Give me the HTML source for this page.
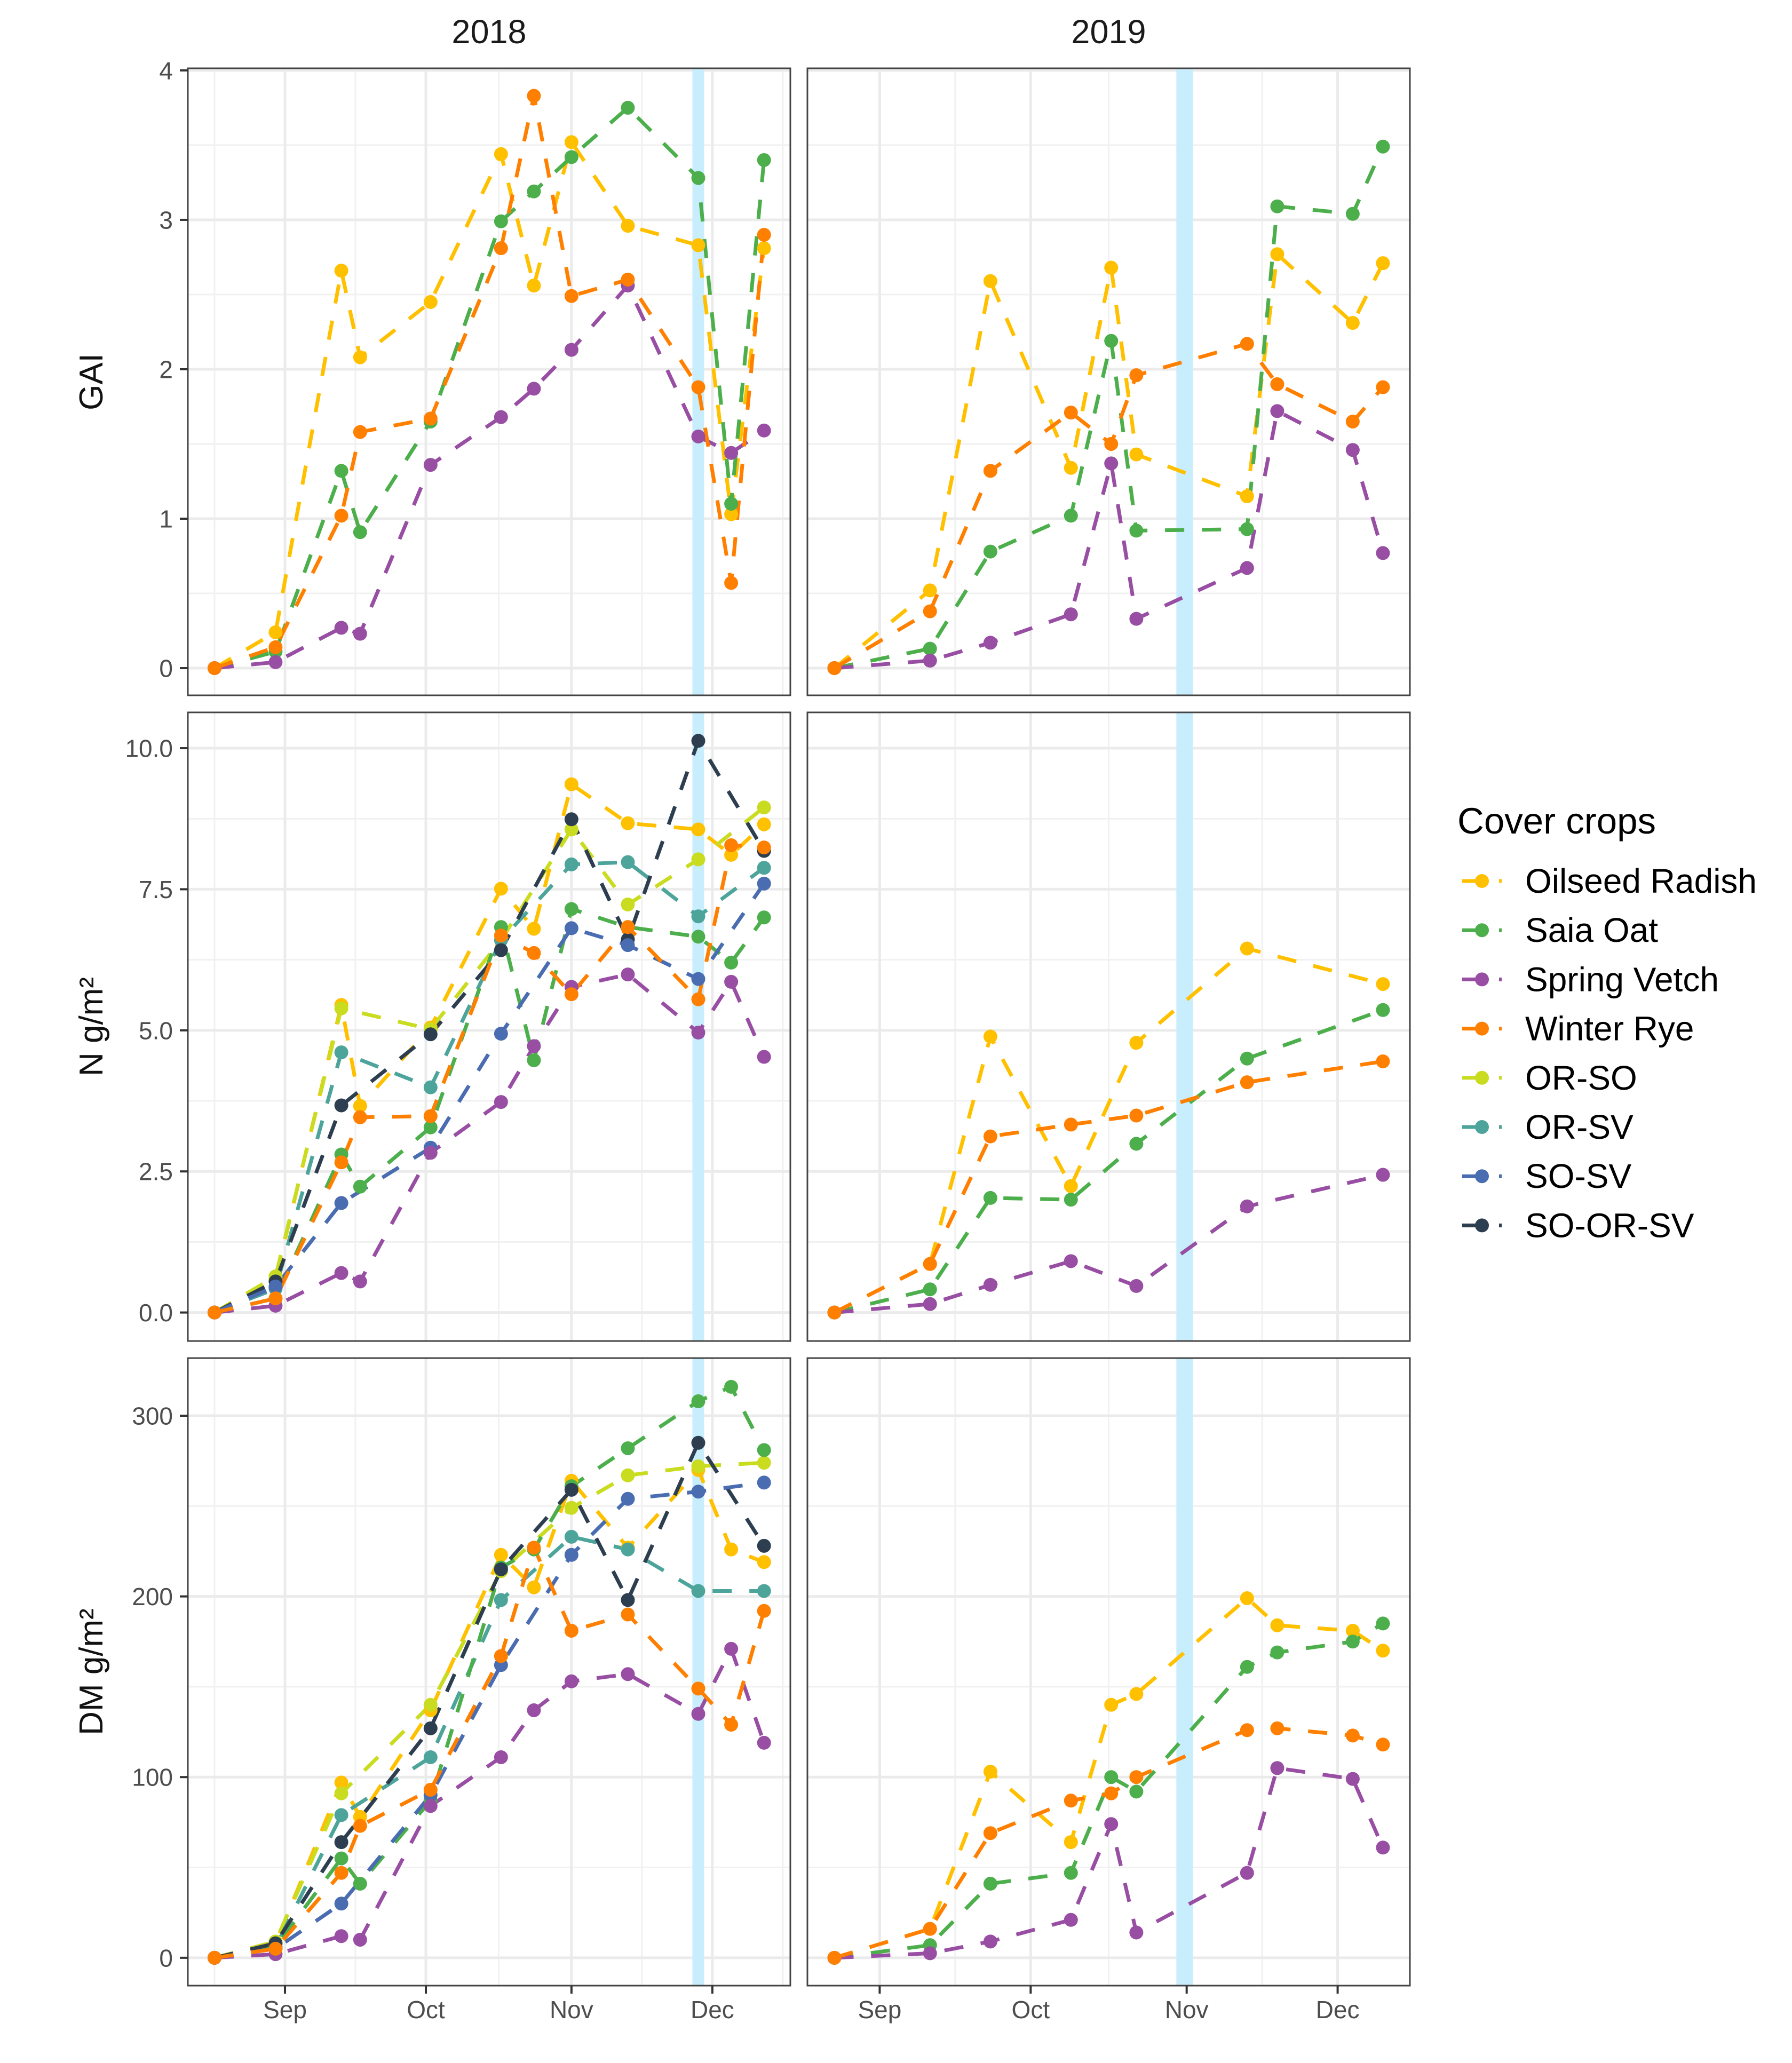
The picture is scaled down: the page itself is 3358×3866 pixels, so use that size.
<!DOCTYPE html>
<html lang="en">
<head>
<meta charset="utf-8">
<title>Cover crops GAI, N and DM by year</title>
<style>
html,body{margin:0;padding:0;background:#fff;}
svg{display:block;font-family:"Liberation Sans",Arial,sans-serif;}
</style>
</head>
<body>
<svg id="chart" xmlns="http://www.w3.org/2000/svg" width="3358" height="3866" viewBox="0 0 3358 3866"></svg>
<script>
// Sampling dates: days relative to 1 September
const dates2018 = [-15, -2, 12, 16, 31, 46, 53, 61, 73, 88, 95, 102];
const datesMix2018 = [-15, -2, 12, 31, 46, 61, 73, 88, 102];
const dates2019 = [-9, 10, 22, 38, 46, 51, 73, 79, 94, 100];
const datesN2019 = [-9, 10, 22, 38, 51, 73, 100];

const monthLabels = ["Sep", "Oct", "Nov", "Dec"];
const monthDays = [0, 30, 61, 91];
const terminationDay2018 = 88;
const terminationDay2019 = 60.6;

const gaiTicks = [0, 1, 2, 3, 4];
const gaiTickLabels = ["0", "1", "2", "3", "4"];
const nTicks = [0, 2.5, 5, 7.5, 10];
const nTickLabels = ["0.0", "2.5", "5.0", "7.5", "10.0"];
const dmTicks = [0, 100, 200, 300];
const dmTickLabels = ["0", "100", "200", "300"];

const cropNames = ["Oilseed Radish", "Saia Oat", "Spring Vetch", "Winter Rye", "OR-SO", "OR-SV", "SO-SV", "SO-OR-SV"];
const cropColors = ["#FFC000", "#4CAF4C", "#984EA3", "#FF7F00", "#C9DC1F", "#4DA49B", "#4A6CB0", "#2C3E50"];
const drawOrder = ["Oilseed Radish", "OR-SO", "OR-SV", "Saia Oat", "SO-OR-SV", "SO-SV", "Spring Vetch", "Winter Rye"];

// GAI 2018
const gai18Radish = [0, 0.24, 2.66, 2.08, 2.45, 3.44, 2.56, 3.52, 2.96, 2.83, 1.03, 2.81];
const gai18Oat = [0, 0.11, 1.32, 0.91, 1.65, 2.99, 3.19, 3.42, 3.75, 3.28, 1.10, 3.40];
const gai18Vetch = [0, 0.04, 0.27, 0.23, 1.36, 1.68, 1.87, 2.13, 2.56, 1.55, 1.44, 1.59];
const gai18Rye = [0, 0.14, 1.02, 1.58, 1.67, 2.81, 3.83, 2.49, 2.60, 1.88, 0.57, 2.90];
// GAI 2019
const gai19Radish = [0, 0.52, 2.59, 1.34, 2.68, 1.43, 1.15, 2.77, 2.31, 2.71];
const gai19Oat = [0, 0.13, 0.78, 1.02, 2.19, 0.92, 0.93, 3.09, 3.04, 3.49];
const gai19Vetch = [0, 0.05, 0.17, 0.36, 1.37, 0.33, 0.67, 1.72, 1.46, 0.77];
const gai19Rye = [0, 0.38, 1.32, 1.71, 1.50, 1.96, 2.17, 1.90, 1.65, 1.88];
// N 2018
const n18Radish = [0, 0.6, 5.45, 3.66, 5.05, 7.51, 6.80, 9.36, 8.67, 8.56, 8.11, 8.65];
const n18Oat = [0, 0.25, 2.80, 2.23, 3.28, 6.83, 4.47, 7.15, 6.83, 6.66, 6.20, 7.00];
const n18Vetch = [0, 0.12, 0.70, 0.55, 2.83, 3.73, 4.72, 5.77, 5.99, 4.96, 5.86, 4.53];
const n18Rye = [0, 0.25, 2.66, 3.46, 3.48, 6.68, 6.37, 5.64, 6.83, 5.55, 8.28, 8.24];
const n18OrSo = [0, 0.64, 5.39, 5.02, 6.60, 8.56, 7.23, 8.03, 8.95];
const n18OrSv = [0, 0.42, 4.61, 3.99, 6.60, 7.94, 7.98, 7.02, 7.88];
const n18SoSv = [0, 0.46, 1.94, 2.92, 4.94, 6.81, 6.51, 5.91, 7.60];
const n18SoOrSv = [0, 0.55, 3.67, 4.93, 6.42, 8.74, 6.61, 10.13, 8.18];
// N 2019
const n19Radish = [0, 0.86, 4.89, 2.24, 4.78, 6.45, 5.82];
const n19Oat = [0, 0.41, 2.03, 2.00, 2.99, 4.50, 5.36];
const n19Vetch = [0, 0.15, 0.49, 0.91, 0.47, 1.88, 2.44];
const n19Rye = [0, 0.86, 3.12, 3.33, 3.49, 4.08, 4.45];
// DM 2018
const dm18Radish = [0, 8, 97, 78, 137, 223, 205, 264, 227, 270, 226, 219];
const dm18Oat = [0, 6, 55, 41, 87, 216, 226, 261, 282, 308, 316, 281];
const dm18Vetch = [0, 2, 12, 10, 84, 111, 137, 153, 157, 135, 171, 119];
const dm18Rye = [0, 5, 47, 73, 93, 167, 227, 181, 190, 149, 129, 192];
const dm18OrSo = [0, 9, 91, 140, 214, 249, 267, 272, 274];
const dm18OrSv = [0, 6, 79, 111, 198, 233, 226, 203, 203];
const dm18SoSv = [0, 5, 30, 90, 162, 223, 254, 258, 263];
const dm18SoOrSv = [0, 8, 64, 127, 215, 259, 198, 285, 228];
// DM 2019
const dm19Radish = [0, 16, 103, 64, 140, 146, 199, 184, 181, 170];
const dm19Oat = [0, 7, 41, 47, 100, 92, 161, 169, 175, 185];
const dm19Vetch = [0, 2.5, 9, 21, 74, 14, 47, 105, 99, 61];
const dm19Rye = [0, 16, 69, 87, 91, 100, 126, 127, 123, 118];

const NS = "http://www.w3.org/2000/svg";
const svg = document.getElementById("chart");

function el(parent, tag, attrs, text) {
  const node = document.createElementNS(NS, tag);
  for (const k in attrs) node.setAttribute(k, attrs[k]);
  if (text !== undefined) node.textContent = text;
  parent.appendChild(node);
  return node;
}
function slug(s) {
  return s.toLowerCase().replace(/[^a-z0-9]+/g, "-");
}
function linear(d0, d1, r0, r1) {
  return function (v) { return r0 + (v - d0) * (r1 - r0) / (d1 - d0); };
}
function midpoints(ticks) {
  const out = [];
  const stepFirst = ticks[1] - ticks[0];
  const stepLast = ticks[ticks.length - 1] - ticks[ticks.length - 2];
  out.push(ticks[0] - stepFirst / 2);
  for (let i = 0; i < ticks.length - 1; i++) out.push((ticks[i] + ticks[i + 1]) / 2);
  out.push(ticks[ticks.length - 1] + stepLast / 2);
  return out;
}

const columns = [
  { year: "2018", left: 352, right: 1481, dayMin: -20.68, dayMax: 107.6, band: terminationDay2018, bandHalf: 1.25 },
  { year: "2019", left: 1513, right: 2642, dayMin: -14.36, dayMax: 105.36, band: terminationDay2019, bandHalf: 1.65 }
];

const rows = [
  { key: "gai", title: "GAI", top: 128, bottom: 1303, min: -0.182, max: 4.014, ticks: gaiTicks, labels: gaiTickLabels,
    series: [
      { "Oilseed Radish": [dates2018, gai18Radish], "Saia Oat": [dates2018, gai18Oat], "Spring Vetch": [dates2018, gai18Vetch], "Winter Rye": [dates2018, gai18Rye] },
      { "Oilseed Radish": [dates2019, gai19Radish], "Saia Oat": [dates2019, gai19Oat], "Spring Vetch": [dates2019, gai19Vetch], "Winter Rye": [dates2019, gai19Rye] }
    ] },
  { key: "n", title: "N g/m\u00B2", top: 1335, bottom: 2513, min: -0.505, max: 10.634, ticks: nTicks, labels: nTickLabels,
    series: [
      { "Oilseed Radish": [dates2018, n18Radish], "Saia Oat": [dates2018, n18Oat], "Spring Vetch": [dates2018, n18Vetch], "Winter Rye": [dates2018, n18Rye],
        "OR-SO": [datesMix2018, n18OrSo], "OR-SV": [datesMix2018, n18OrSv], "SO-SV": [datesMix2018, n18SoSv], "SO-OR-SV": [datesMix2018, n18SoOrSv] },
      { "Oilseed Radish": [datesN2019, n19Radish], "Saia Oat": [datesN2019, n19Oat], "Spring Vetch": [datesN2019, n19Vetch], "Winter Rye": [datesN2019, n19Rye] }
    ] },
  { key: "dm", title: "DM g/m\u00B2", top: 2545, bottom: 3721, min: -15.4, max: 331.9, ticks: dmTicks, labels: dmTickLabels,
    series: [
      { "Oilseed Radish": [dates2018, dm18Radish], "Saia Oat": [dates2018, dm18Oat], "Spring Vetch": [dates2018, dm18Vetch], "Winter Rye": [dates2018, dm18Rye],
        "OR-SO": [datesMix2018, dm18OrSo], "OR-SV": [datesMix2018, dm18OrSv], "SO-SV": [datesMix2018, dm18SoSv], "SO-OR-SV": [datesMix2018, dm18SoOrSv] },
      { "Oilseed Radish": [dates2019, dm19Radish], "Saia Oat": [dates2019, dm19Oat], "Spring Vetch": [dates2019, dm19Vetch], "Winter Rye": [dates2019, dm19Rye] }
    ] }
];

const DASH = "36 33";
const LINE_W = 7;
const POINT_R = 13;

columns.forEach(function (col) {
  const strip = el(svg, "text", { x: (col.left + col.right) / 2, y: 81, "text-anchor": "middle", "font-size": 63, fill: "#1a1a1a" }, col.year);
  
  
});

rows.forEach(function (row, r) {
  const cy = (row.top + row.bottom) / 2;
  const title = el(svg, "text", { transform: "translate(192," + cy + ") rotate(-90)", "text-anchor": "middle", "font-size": 62, fill: "#111" }, row.title);
  
  

  const yScale = linear(row.min, row.max, row.bottom, row.top);

  columns.forEach(function (col, c) {
    const xScale = linear(col.dayMin, col.dayMax, col.left, col.right);
    const panel = el(svg, "g", {});
    
    

    const bg = el(panel, "rect", { x: col.left, y: row.top, width: col.right - col.left, height: row.bottom - row.top, fill: "#fff" });
    
    

    midpoints(row.ticks).forEach(function (v) {
      if (v < row.min || v > row.max) return;
      const g = el(panel, "line", { x1: col.left, x2: col.right, y1: yScale(v), y2: yScale(v), stroke: "#f1f1f1", "stroke-width": 3 });
      
      
    });
    midpoints(monthDays).forEach(function (d) {
      if (d < col.dayMin || d > col.dayMax) return;
      const g = el(panel, "line", { x1: xScale(d), x2: xScale(d), y1: row.top, y2: row.bottom, stroke: "#f1f1f1", "stroke-width": 3 });
      
      
    });
    row.ticks.forEach(function (v) {
      const g = el(panel, "line", { x1: col.left, x2: col.right, y1: yScale(v), y2: yScale(v), stroke: "#ebebeb", "stroke-width": 5 });
      
      
    });
    monthDays.forEach(function (d) {
      const g = el(panel, "line", { x1: xScale(d), x2: xScale(d), y1: row.top, y2: row.bottom, stroke: "#ebebeb", "stroke-width": 5 });
      
      
    });

    const bandLeft = xScale(col.band - col.bandHalf);
    const band = el(panel, "rect", { x: bandLeft, y: row.top, width: xScale(col.band + col.bandHalf) - bandLeft, height: row.bottom - row.top, fill: "#c8eefe" });
    
    

    const seriesMap = row.series[c];
    drawOrder.forEach(function (name) {
      if (!seriesMap[name]) return;
      const days = seriesMap[name][0];
      const values = seriesMap[name][1];
      const color = cropColors[cropNames.indexOf(name)];
      const pts = days.map(function (d, i) { return xScale(d).toFixed(1) + "," + yScale(values[i]).toFixed(1); }).join(" ");
      const line = el(panel, "polyline", { points: pts, fill: "none", stroke: color, "stroke-width": LINE_W, "stroke-dasharray": DASH, "stroke-linejoin": "round" });
      
      
    });
    drawOrder.forEach(function (name) {
      if (!seriesMap[name]) return;
      const days = seriesMap[name][0];
      const values = seriesMap[name][1];
      const color = cropColors[cropNames.indexOf(name)];
      days.forEach(function (d, i) {
        const p = el(panel, "circle", { cx: xScale(d), cy: yScale(values[i]), r: POINT_R, fill: color });
        
        
      });
    });

    const border = el(panel, "rect", { x: col.left, y: row.top, width: col.right - col.left, height: row.bottom - row.top, fill: "none", stroke: "#444", "stroke-width": 3 });
    
    

    if (c === 0) {
      row.ticks.forEach(function (v, i) {
        const t = el(svg, "line", { x1: col.left - 15, x2: col.left, y1: yScale(v), y2: yScale(v), stroke: "#333", "stroke-width": 4 });
        
        
        const lab = el(svg, "text", { x: col.left - 28, y: yScale(v) + 16.5, "text-anchor": "end", "font-size": 46, fill: "#4d4d4d" }, row.labels[i]);
        
        
      });
    }
    if (r === rows.length - 1) {
      monthDays.forEach(function (d, i) {
        const t = el(svg, "line", { x1: xScale(d), x2: xScale(d), y1: row.bottom, y2: row.bottom + 15, stroke: "#333", "stroke-width": 4 });
        
        
        const lab = el(svg, "text", { x: xScale(d), y: 3782, "text-anchor": "middle", "font-size": 46, fill: "#4d4d4d" }, monthLabels[i]);
        
        
      });
    }
  });
});

// Legend
const legend = el(svg, "g", {});


const legendTitle = el(legend, "text", { x: 2731, y: 1562, "font-size": 69, fill: "#000" }, "Cover crops");


cropNames.forEach(function (name, i) {
  const y = 1651 + i * 92.2;
  const entry = el(legend, "g", {});
  
  
  const key = el(entry, "line", { x1: 2740, x2: 2814, y1: y, y2: y, stroke: cropColors[i], "stroke-width": LINE_W, "stroke-dasharray": DASH });
  
  
  const dot = el(entry, "circle", { cx: 2777, cy: y, r: POINT_R, fill: cropColors[i] });
  
  
  const label = el(entry, "text", { x: 2858, y: y + 22, "font-size": 64, fill: "#000" }, name);
  
  
});
</script>
</body>
</html>
